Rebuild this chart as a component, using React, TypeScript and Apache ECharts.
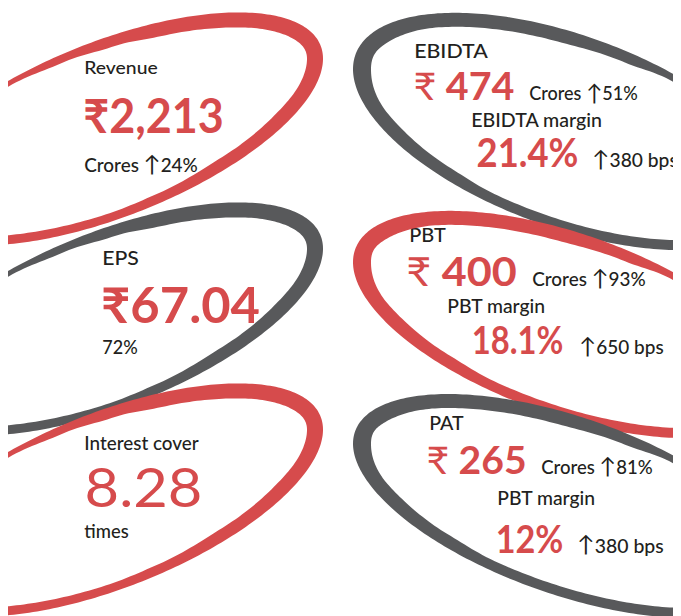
import React, { useEffect, useRef } from "react";
import * as echarts from "echarts";

// ---------- content ----------
const titles = ["Revenue", "EPS", "Interest cover", "EBIDTA", "PBT", "PAT"];
const values = ["₹2,213", "₹67.04", "8.28", "₹ 474", "₹ 400", "₹ 265"];
const notes = ["Crores ↑24%", "72%", "times", "Crores ↑51%", "Crores ↑93%", "Crores ↑81%"];
const marginLabels = ["EBIDTA margin", "PBT margin", "PBT margin"];
const marginValues = ["21.4%", "18.1%", "12%"];
const marginChanges = ["↑380 bps", "↑650 bps", "↑380 bps"];

// ---------- decorative swoosh geometry (page coords) ----------
// each ellipse: centre x, centre y, half width, shear slope, half height
const leftEllipses = [
  [110, 129, 213, -0.33, 93],
  [110, 319, 213, -0.33, 93],
  [110, 500, 213, -0.33, 93],
];
const rightEllipses = [
  [568, 131.5, 215, 0.29, 101],
  [568, 324.5, 215, 0.29, 95],
  [568, 506, 215, 0.29, 93],
];
const leftThickT = [-2.4, -2.07, -1.81, -1.57, -1.33, -0.9, -0.4, 0, 0.5, 0.97, 1.31, 1.57, 2.07, 2.4];
const leftThickW = [4, 5, 8, 11, 14, 15, 16, 16, 14, 12, 9.5, 8.5, 9, 9];
const rightThickT = [-2.4, -2.08, -1.85, -1.52, -0.93, -0.4, 0, 0.5, 0.95, 1.21, 1.59, 2.08, 2.4];
const rightThickW = [5, 7, 11, 13.5, 14, 16.5, 18, 14, 12, 10, 10, 10, 10];

const RED = "#d64b4c";
const GRAY = "#58595b";
const INK = "#231f20";
const leftColors = [RED, GRAY, RED];
const rightColors = [GRAY, RED, GRAY];

const OX = 8;
const OY = 8;
const K = 0.38;
const FONT = "Lato, 'Noto Sans', 'DejaVu Sans', sans-serif";
const ARROW_FONT = "Lato, 'DejaVu Sans', sans-serif";

function interp(t: number, T: number[], W: number[]) {
  if (t <= T[0]) return W[0];
  for (let i = 0; i < T.length - 1; i++) {
    if (t <= T[i + 1]) {
      const u = (t - T[i]) / (T[i + 1] - T[i]);
      const s = (1 - Math.cos(Math.PI * u)) / 2;
      return W[i] + (W[i + 1] - W[i]) * s;
    }
  }
  return W[W.length - 1];
}

function swoosh(el: number[], dir: number, T: number[], Wt: number[]) {
  const [xc, yc, X, m, H] = el;
  const outer: number[][] = [], inner: number[][] = [];
  const t0 = T[0], t1 = T[T.length - 1];
  const N = 240;
  for (let i = 0; i <= N; i++) {
    const t = t0 + ((t1 - t0) * i) / N;
    const c = Math.cos(t), s = Math.sin(t);
    const x = xc + dir * X * c;
    const y = yc + dir * m * X * c + H * s;
    const tx = -dir * X * s;
    const ty = -dir * m * X * s + H * c;
    let nx = -ty, ny = tx;
    const len = Math.hypot(nx, ny) || 1;
    nx /= len; ny /= len;
    if ((xc - x) * nx + (yc - y) * ny < 0) { nx = -nx; ny = -ny; }
    const w = interp(t, T, Wt);
    outer.push([x - OX, y - OY]);
    inner.push([x + nx * w - OX, y + ny * w - OY]);
  }
  return outer.concat(inner.reverse());
}

let measureCtx: CanvasRenderingContext2D | null = null;
function measure(text: string, font: string) {
  if (!measureCtx) measureCtx = document.createElement("canvas").getContext("2d");
  measureCtx!.font = font;
  return measureCtx!.measureText(text).width;
}

// segments: [text, weight, size factor, family]
function segmentsFor(text: string, weight: number): [string, number, number, string][] {
  if (text.startsWith("₹ ")) return [["₹", 400, 1, FONT], [text.slice(1), weight, 1, FONT]];
  if (text.includes("↑")) {
    const [a, b] = text.split("↑");
    const out: [string, number, number, string][] = [];
    if (a) out.push([a, weight, 1, FONT]);
    out.push(["↑", 400, 1.2, ARROW_FONT]);
    out.push([b, weight, 1, FONT]);
    return out;
  }
  return [[text, weight, 1, FONT]];
}

function textBlock(text: string, inkLeft: number, base: number, size: number, weight: number, color: string, target: number) {
  const segs = segmentsFor(text, weight);
  const children: any[] = [];
  let cx = 0;
  segs.forEach(([t, w, f, fam]) => {
    const sz = size * f;
    const font = `${w} ${sz}px ${fam}`;
    children.push({
      type: "text",
      style: {
        text: t, x: cx, y: -K * sz, font, fill: color,
        align: "left", verticalAlign: "middle", textAlign: "left", textVerticalAlign: "middle",
      },
    });
    cx += measure(t, font);
  });
  const ink = cx - 0.08 * size;
  let sx = target / ink;
  sx = Math.max(0.8, Math.min(1.2, sx));
  return {
    type: "group",
    z: 10,
    x: inkLeft - OX - 0.04 * size * sx,
    y: base - OY,
    scaleX: sx,
    children,
  };
}

// text layout: [ink left x, baseline, font size, weight, ink width]
const titleLayout = [
  [85, 74.3, 18, 500, 72], [103, 265, 19.5, 500, 35], [85, 449.3, 19.5, 500, 113],
  [415, 58, 19.5, 500, 72], [410, 241.7, 19, 500, 35], [430, 430, 19, 500, 33],
];
const valueLayout = [
  [85, 132.5, 47, 700, 137], [103, 322.7, 49, 700, 155], [87, 507, 54, 400, 113],
  [415, 100, 38, 700, 98], [408, 286, 40, 700, 107], [428, 473.5, 38, 700, 97],
];
const noteLayout = [
  [85, 171.7, 18.7, 500, 112], [103, 354, 19, 500, 34], [85, 538.3, 19, 500, 43],
  [530, 100.5, 19, 500, 107], [533, 286, 18.5, 500, 112], [542, 474.3, 18.6, 500, 110],
];
const mLabelLayout = [[472, 126.7, 19.5, 130], [448, 312.7, 19.5, 97], [498, 505, 19.5, 97]];
const mValueLayout = [[478, 166.7, 39.5, 99], [473, 354.3, 38, 89], [497, 553.3, 37.5, 65]];
const mChangeLayout = [[593, 166.7, 18.5, 84], [580, 354, 18.5, 83], [578, 552.5, 18.5, 85]];

export default function App() {
  const ref = useRef<HTMLDivElement>(null);
  useEffect(() => {
    document.body.style.overflow = "hidden";
    const chart = echarts.init(ref.current!, null, { renderer: "svg" });
    const graphic: any[] = [];
    leftEllipses.forEach((el, i) => {
      graphic.push({
        type: "polygon", z: 1 + i,
        shape: { points: swoosh(el, 1, leftThickT, leftThickW) },
        style: { fill: leftColors[i] },
      });
    });
    rightEllipses.forEach((el, i) => {
      graphic.push({
        type: "polygon", z: 1 + i,
        shape: { points: swoosh(el, -1, rightThickT, rightThickW) },
        style: { fill: rightColors[i] },
      });
    });
    // white cover beyond the artwork's right edge
    graphic.push({ type: "rect", z: 8, shape: { x: 673 - OX, y: 0, width: 40, height: 700 }, style: { fill: "#ffffff" } });
    titles.forEach((t, i) => {
      const [x, b, s, w, tw] = titleLayout[i];
      graphic.push(textBlock(t, x, b, s, w, INK, tw));
    });
    values.forEach((t, i) => {
      const [x, b, s, w, tw] = valueLayout[i];
      graphic.push(textBlock(t, x, b, s, w, RED, tw));
    });
    notes.forEach((t, i) => {
      const [x, b, s, w, tw] = noteLayout[i];
      graphic.push(textBlock(t, x, b, s, w, INK, tw));
    });
    marginLabels.forEach((t, i) => {
      const [x, b, s, tw] = mLabelLayout[i];
      graphic.push(textBlock(t, x, b, s, 500, INK, tw));
    });
    marginValues.forEach((t, i) => {
      const [x, b, s, tw] = mValueLayout[i];
      graphic.push(textBlock(t, x, b, s, 700, RED, tw));
    });
    marginChanges.forEach((t, i) => {
      const [x, b, s, tw] = mChangeLayout[i];
      graphic.push(textBlock(t, x, b, s, 500, INK, tw));
    });
    chart.setOption({ animation: false, backgroundColor: "#ffffff", graphic });
    return () => chart.dispose();
  }, []);
  return <div ref={ref} style={{ width: 673, height: 608, overflow: "hidden" }} />;
}
